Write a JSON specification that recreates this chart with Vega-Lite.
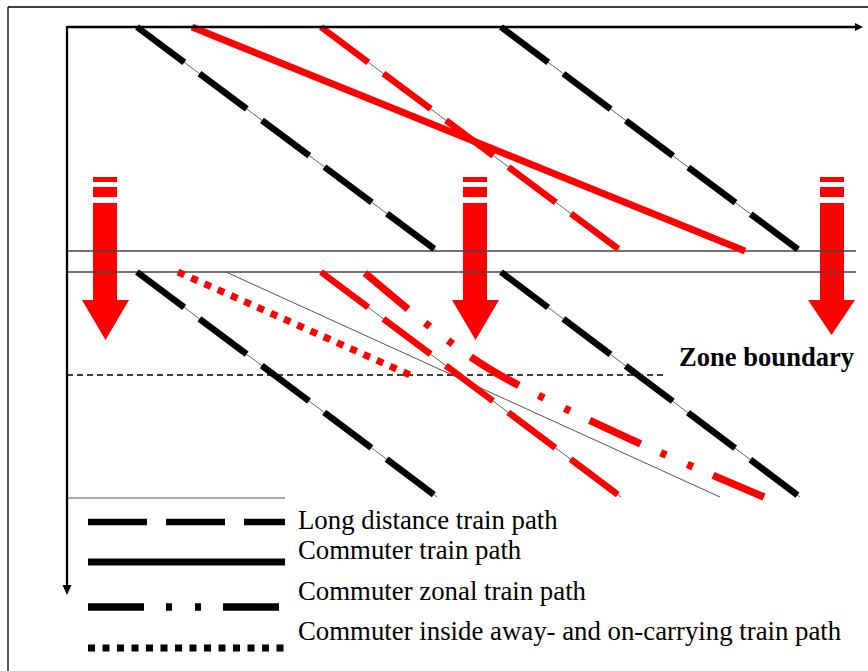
{
  "$schema": "https://vega.github.io/schema/vega-lite/v6.json",
  "width": 868,
  "height": 671,
  "autosize": {"type": "none"},
  "padding": 0,
  "background": "white",
  "config": {"view": {"stroke": null}},
  "datasets": {
    "frame": [
      {"x": 8, "x2": 868, "y": 7, "y2": 7},
      {"x": 8, "x2": 8, "y": 7, "y2": 671}
    ],
    "axes": [
      {"x": 67, "x2": 857, "y": 27, "y2": 27, "w": "h"},
      {"x": 67, "x2": 67, "y": 26, "y2": 588, "w": "v"}
    ],
    "axisheads": [
      {"head": "right", "x": 855, "y": 23, "y2": 31},
      {"head": "right", "x": 863, "y": 27, "y2": 27},
      {"head": "down", "x": 62.5, "y": 585, "y2": 585},
      {"head": "down", "x": 67, "y": 585, "y2": 595},
      {"head": "down", "x": 71.5, "y": 585, "y2": 585}
    ],
    "arrowbars": [
      {"arrow": 1, "x": 93, "x2": 117, "y": 177, "y2": 182},
      {"arrow": 1, "x": 93, "x2": 117, "y": 187, "y2": 197},
      {"arrow": 1, "x": 93, "x2": 117, "y": 203, "y2": 301},
      {"arrow": 2, "x": 463, "x2": 487, "y": 177, "y2": 182},
      {"arrow": 2, "x": 463, "x2": 487, "y": 187, "y2": 197},
      {"arrow": 2, "x": 463, "x2": 487, "y": 203, "y2": 301},
      {"arrow": 3, "x": 820, "x2": 844, "y": 177, "y2": 182},
      {"arrow": 3, "x": 820, "x2": 844, "y": 187, "y2": 197},
      {"arrow": 3, "x": 820, "x2": 844, "y": 203, "y2": 301}
    ],
    "arrowheads": [
      {"arrow": 1, "x": 82, "y": 300, "y2": 300},
      {"arrow": 1, "x": 105.5, "y": 300, "y2": 340},
      {"arrow": 1, "x": 129, "y": 300, "y2": 300},
      {"arrow": 2, "x": 452, "y": 300, "y2": 300},
      {"arrow": 2, "x": 475.5, "y": 300, "y2": 340},
      {"arrow": 2, "x": 499, "y": 300, "y2": 300},
      {"arrow": 3, "x": 808, "y": 300, "y2": 300},
      {"arrow": 3, "x": 831.5, "y": 300, "y2": 335},
      {"arrow": 3, "x": 855, "y": 300, "y2": 300}
    ],
    "tracks": [
      {"x": 67, "x2": 856, "y": 251},
      {"x": 67, "x2": 856, "y": 272}
    ],
    "zone": [
      {"x": 67, "x2": 663, "y": 375}
    ],
    "legendbox": [
      {"x": 67, "x2": 285, "y": 498}
    ],
    "paths": [
      {"train": "LD1", "section": "diagram", "group": "regular", "type": "Long distance", "order": 1, "x": 137, "y": 27},
      {"train": "LD1", "section": "diagram", "group": "regular", "type": "Long distance", "order": 2, "x": 437, "y": 251},
      {"train": "LD2", "section": "diagram", "group": "regular", "type": "Long distance", "order": 1, "x": 501, "y": 27},
      {"train": "LD2", "section": "diagram", "group": "regular", "type": "Long distance", "order": 2, "x": 800, "y": 251},
      {"train": "LD3", "section": "diagram", "group": "regular", "type": "Long distance", "order": 1, "x": 137, "y": 272},
      {"train": "LD3", "section": "diagram", "group": "regular", "type": "Long distance", "order": 2, "x": 437, "y": 497},
      {"train": "LD4", "section": "diagram", "group": "regular", "type": "Long distance", "order": 1, "x": 501, "y": 272},
      {"train": "LD4", "section": "diagram", "group": "regular", "type": "Long distance", "order": 2, "x": 800, "y": 497},
      {"train": "RLD1", "section": "diagram", "group": "highlighted", "type": "Long distance", "order": 1, "x": 321, "y": 27},
      {"train": "RLD1", "section": "diagram", "group": "highlighted", "type": "Long distance", "order": 2, "x": 621, "y": 251},
      {"train": "RLD2", "section": "diagram", "group": "highlighted", "type": "Long distance", "order": 1, "x": 321, "y": 272},
      {"train": "RLD2", "section": "diagram", "group": "highlighted", "type": "Long distance", "order": 2, "x": 621, "y": 497},
      {"train": "C1", "section": "diagram", "group": "highlighted", "type": "Commuter", "order": 1, "x": 192, "y": 27},
      {"train": "C1", "section": "diagram", "group": "highlighted", "type": "Commuter", "order": 2, "x": 745, "y": 251},
      {"train": "Z1", "section": "diagram", "group": "highlighted", "type": "Commuter zonal", "order": 1, "x": 365, "y": 273},
      {"train": "Z1", "section": "diagram", "group": "highlighted", "type": "Commuter zonal", "order": 2, "x": 505, "y": 378},
      {"train": "Z1", "section": "diagram", "group": "highlighted", "type": "Commuter zonal", "order": 3, "x": 530, "y": 391},
      {"train": "Z1", "section": "diagram", "group": "highlighted", "type": "Commuter zonal", "order": 4, "x": 764, "y": 497},
      {"train": "I1", "section": "diagram", "group": "highlighted", "type": "Commuter inside", "order": 1, "x": 178, "y": 272},
      {"train": "I1", "section": "diagram", "group": "highlighted", "type": "Commuter inside", "order": 2, "x": 410, "y": 375},
      {"train": "K1", "section": "legend", "group": "regular", "type": "Long distance", "order": 1, "x": 88, "y": 522},
      {"train": "K1", "section": "legend", "group": "regular", "type": "Long distance", "order": 2, "x": 285, "y": 522},
      {"train": "K2", "section": "legend", "group": "regular", "type": "Commuter", "order": 1, "x": 88, "y": 562},
      {"train": "K2", "section": "legend", "group": "regular", "type": "Commuter", "order": 2, "x": 285, "y": 562},
      {"train": "K3", "section": "legend", "group": "regular", "type": "Commuter zonal", "order": 1, "x": 88, "y": 607},
      {"train": "K3", "section": "legend", "group": "regular", "type": "Commuter zonal", "order": 2, "x": 285, "y": 607},
      {"train": "K4", "section": "legend", "group": "regular", "type": "Commuter inside", "order": 1, "x": 88, "y": 648},
      {"train": "K4", "section": "legend", "group": "regular", "type": "Commuter inside", "order": 2, "x": 285, "y": 648}
    ],
    "reference": [
      {"train": "G1", "order": 1, "x": 226, "y": 272},
      {"train": "G1", "order": 2, "x": 720, "y": 497}
    ],
    "legendtext": [
      {"text": "Long distance train path", "x": 298, "y": 529},
      {"text": "Commuter train path", "x": 298, "y": 559},
      {"text": "Commuter zonal train path", "x": 298, "y": 600},
      {"text": "Commuter inside away- and on-carrying train path", "x": 298, "y": 640}
    ],
    "zonetext": [
      {"text": "Zone boundary", "x": 679, "y": 366}
    ]
  },
  "layer": [
    {
      "data": {"name": "frame"},
      "mark": {"type": "rule", "color": "black", "strokeWidth": 1.3},
      "encoding": {
        "x": {"field": "x", "type": "quantitative", "scale": {"domain": [0, 868], "nice": false, "zero": false}, "axis": null},
        "x2": {"field": "x2"},
        "y": {"field": "y", "type": "quantitative", "scale": {"domain": [0, 671], "nice": false, "zero": false, "reverse": true}, "axis": null},
        "y2": {"field": "y2"}
      }
    },
    {
      "data": {"name": "arrowbars"},
      "mark": {"type": "rect", "color": "#ff0000"},
      "encoding": {
        "x": {"field": "x", "type": "quantitative"},
        "x2": {"field": "x2"},
        "y": {"field": "y", "type": "quantitative"},
        "y2": {"field": "y2"}
      }
    },
    {
      "data": {"name": "arrowheads"},
      "mark": {"type": "area", "color": "#ff0000", "orient": "vertical"},
      "encoding": {
        "x": {"field": "x", "type": "quantitative"},
        "y": {"field": "y", "type": "quantitative"},
        "y2": {"field": "y2"},
        "detail": {"field": "arrow"}
      }
    },
    {
      "data": {"name": "tracks"},
      "mark": {"type": "rule", "color": "#444444", "strokeWidth": 1.3},
      "encoding": {
        "x": {"field": "x", "type": "quantitative"},
        "x2": {"field": "x2"},
        "y": {"field": "y", "type": "quantitative"}
      }
    },
    {
      "data": {"name": "zone"},
      "mark": {"type": "rule", "color": "black", "strokeWidth": 1.3, "strokeDash": [6, 4]},
      "encoding": {
        "x": {"field": "x", "type": "quantitative"},
        "x2": {"field": "x2"},
        "y": {"field": "y", "type": "quantitative"}
      }
    },
    {
      "data": {"name": "legendbox"},
      "mark": {"type": "rule", "color": "#555555", "strokeWidth": 1.2},
      "encoding": {
        "x": {"field": "x", "type": "quantitative"},
        "x2": {"field": "x2"},
        "y": {"field": "y", "type": "quantitative"}
      }
    },
    {
      "data": {"name": "paths"},
      "transform": [{"filter": "datum.section === 'diagram' && datum.type === 'Long distance'"}],
      "mark": {"type": "line", "color": "#666666", "strokeWidth": 1},
      "encoding": {
        "x": {"field": "x", "type": "quantitative"},
        "y": {"field": "y", "type": "quantitative"},
        "detail": {"field": "train"},
        "order": {"field": "order"}
      }
    },
    {
      "data": {"name": "reference"},
      "mark": {"type": "line", "color": "#555555", "strokeWidth": 1},
      "encoding": {
        "x": {"field": "x", "type": "quantitative"},
        "y": {"field": "y", "type": "quantitative"},
        "detail": {"field": "train"},
        "order": {"field": "order"}
      }
    },
    {
      "data": {"name": "paths"},
      "mark": {"type": "line", "strokeCap": "butt", "interpolate": "monotone"},
      "encoding": {
        "x": {"field": "x", "type": "quantitative"},
        "y": {"field": "y", "type": "quantitative"},
        "detail": {"field": "train"},
        "order": {"field": "order"},
        "color": {"field": "group", "type": "nominal", "scale": {"domain": ["regular", "highlighted"], "range": ["#000000", "#ff0000"]}, "legend": null},
        "strokeDash": {"field": "type", "type": "nominal", "scale": {"type": "ordinal", "domain": ["Long distance", "Commuter", "Commuter zonal", "Commuter inside"], "range": [[59, 19], [1, 0], [56, 22, 6, 23, 6, 22], [7, 7.5]]}, "legend": null},
        "strokeWidth": {"field": "type", "type": "nominal", "scale": {"type": "ordinal", "domain": ["Long distance", "Commuter", "Commuter zonal", "Commuter inside"], "range": [6.5, 7, 7.5, 7]}, "legend": null}
      }
    },
    {
      "data": {"name": "axes"},
      "mark": {"type": "rule", "color": "black", "strokeWidth": 2.3},
      "encoding": {
        "x": {"field": "x", "type": "quantitative"},
        "x2": {"field": "x2"},
        "y": {"field": "y", "type": "quantitative"},
        "y2": {"field": "y2"}
      }
    },
    {
      "data": {"name": "axisheads"},
      "mark": {"type": "area", "color": "black", "orient": "vertical"},
      "encoding": {
        "x": {"field": "x", "type": "quantitative"},
        "y": {"field": "y", "type": "quantitative"},
        "y2": {"field": "y2"},
        "detail": {"field": "head"}
      }
    },
    {
      "data": {"name": "legendtext"},
      "mark": {"type": "text", "font": "Liberation Serif", "fontSize": 26.8, "align": "left", "baseline": "alphabetic", "color": "black"},
      "encoding": {
        "x": {"field": "x", "type": "quantitative"},
        "y": {"field": "y", "type": "quantitative"},
        "text": {"field": "text"}
      }
    },
    {
      "data": {"name": "zonetext"},
      "mark": {"type": "text", "font": "Liberation Serif", "fontSize": 26.6, "fontWeight": "bold", "align": "left", "baseline": "alphabetic", "color": "black"},
      "encoding": {
        "x": {"field": "x", "type": "quantitative"},
        "y": {"field": "y", "type": "quantitative"},
        "text": {"field": "text"}
      }
    }
  ]
}
